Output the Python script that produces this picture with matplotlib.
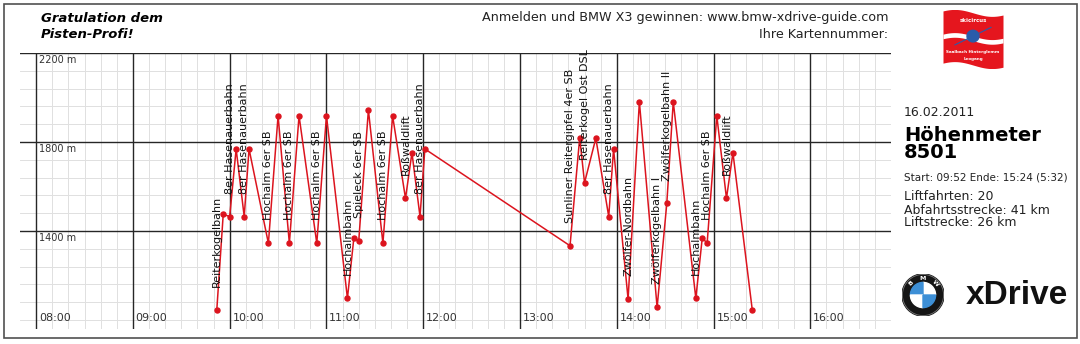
import matplotlib
matplotlib.use("Agg")
import matplotlib.pyplot as plt
import numpy as np
from matplotlib.patches import Rectangle, Circle, Wedge

# ski day: times and altitudes of every lift bottom / top
times = ["09:52", "09:56", "10:00", "10:04", "10:09", "10:12", "10:24", "10:30",
         "10:37", "10:43", "10:54", "11:00", "11:13", "11:17", "11:20", "11:26",
         "11:35", "11:41", "11:49", "11:53", "11:58", "12:01", "13:31", "13:37",
         "13:40", "13:47", "13:55", "13:58", "14:07", "14:14", "14:25", "14:31",
         "14:35", "14:49", "14:53", "14:56", "15:02", "15:08", "15:12", "15:24"]
altitudes = [1045, 1476, 1465, 1769, 1465, 1769, 1345, 1918, 1345, 1918,
             1345, 1918, 1098, 1370, 1355, 1944, 1345, 1918, 1547, 1752,
             1465, 1769, 1334, 1819, 1617, 1817, 1465, 1769, 1094, 1981,
             1057, 1524, 1981, 1098, 1370, 1345, 1918, 1547, 1752, 1045]
# index of the point where each lift ride starts
lift_start = [0, 2, 4, 6, 8, 10, 12, 14, 16, 18, 20, 22, 24, 26, 28, 30, 31, 33, 35, 37]
lift_names = ["Reiterkogelbahn", "8er Hasenauerbahn", "8er Hasenauerbahn",
              "Hochalm 6er SB", "Hochalm 6er SB", "Hochalm 6er SB", "Hochalmbahn",
              "Spieleck 6er SB", "Hochalm 6er SB", "Roßwaldlift", "8er Hasenauerbahn",
              "Sunliner Reitergipfel 4er SB", "Reiterkogel Ost DSL", "8er Hasenauerbahn",
              "Zwölfer-Nordbahn", "Zwölferkogelbahn I", "Zwölferkogelbahn II",
              "Hochalmbahn", "Hochalm 6er SB", "Roßwaldlift"]
hour_labels = ["08:00", "09:00", "10:00", "11:00", "12:00", "13:00", "14:00", "15:00", "16:00"]
alt_labels = [2200, 1800, 1400]

W, H = 1080, 344


def fx(x):
    return x / W


def fy(y):
    return 1 - y / H


hours = np.array([int(t[:2]) + int(t[3:]) / 60 for t in times])
alts = np.array(altitudes)

fig = plt.figure(figsize=(10.8, 3.44), dpi=100)
fig.patch.set_facecolor("white")

# main chart
ax = fig.add_axes([fx(20), fy(329), fx(891) - fx(20), fy(53) - fy(329)])
ax.set_xlim(7 + 50 / 60, 16 + 50 / 60)
ax.set_ylim(960, 2200)
for s in ax.spines.values():
    s.set_visible(False)
ax.set_xticks([])
ax.set_yticks([])

for k in range(54):
    xv = 8 + k / 6
    if k % 6 == 0:
        ax.axvline(xv, color="#262626", lw=1.0, zorder=1)
    else:
        ax.axvline(xv, color="#e0e0e0", lw=0.7, zorder=0)
for k in range(16):
    yv = 2200 - 80 * k
    if yv in alt_labels:
        ax.axhline(yv, color="#262626", lw=1.0, zorder=1)
    else:
        ax.axhline(yv, color="#e0e0e0", lw=0.7, zorder=0)

for lab in hour_labels:
    h = int(lab[:2])
    ax.annotate(lab, (h, 960), xytext=(2, 4), textcoords="offset points",
                ha="left", va="bottom", fontsize=8, color="#333333")
for a in alt_labels:
    ax.annotate(f"{a} m", (8, a), xytext=(2, -1.5), textcoords="offset points",
                ha="left", va="top", fontsize=7, color="#333333")

ax.plot(hours, alts, color="#dc141e", lw=1.1, marker="o", ms=3.6, zorder=3,
        clip_on=False)

for i, name in zip(lift_start, lift_names):
    ax.annotate(name, (hours[i], alts[i]), xytext=(0, 16.5), textcoords="offset points",
                rotation=90, ha="center", va="bottom", fontsize=8, color="#111111",
                zorder=4)

# header texts
fig.text(fx(41), fy(18), "Gratulation dem", fontsize=9.5, fontweight="bold",
         fontstyle="italic", va="center", ha="left")
fig.text(fx(41), fy(35), "Pisten-Profi!", fontsize=9.5, fontweight="bold",
         fontstyle="italic", va="center", ha="left")
fig.text(fx(888), fy(18), "Anmelden und BMW X3 gewinnen: www.bmw-xdrive-guide.com",
         fontsize=9.2, va="center", ha="right", color="#222222")
fig.text(fx(888), fy(35), "Ihre Kartennummer:", fontsize=9.2, va="center", ha="right",
         color="#222222")

# side panel
fig.text(fx(904), fy(113), "16.02.2011", fontsize=9, va="center", ha="left", color="#222222")
fig.text(fx(904), fy(141), "Höhenmeter", fontsize=14, fontweight="bold",
         va="baseline", ha="left")
fig.text(fx(904), fy(158), "8501", fontsize=14, fontweight="bold", va="baseline", ha="left")
fig.text(fx(904), fy(178), "Start: 09:52 Ende: 15:24 (5:32)", fontsize=7.5, va="center",
         ha="left", color="#222222")
for yy, txt in zip([197, 210, 223], ["Liftfahrten: 20", "Abfahrtsstrecke: 41 km",
                                     "Liftstrecke: 26 km"]):
    fig.text(fx(904), fy(yy), txt, fontsize=9, va="center", ha="left", color="#222222")

# skicircus logo
lg = fig.add_axes([fx(943), fy(68), fx(1003) - fx(943), fy(10) - fy(68)])
lg.set_xlim(0, 1)
lg.set_ylim(0, 1)
lg.axis("off")
xs = np.linspace(0, 1, 50)
wave = 0.06 * np.sin(xs * np.pi * 1.6 + 0.6)
lg.fill_between(xs, 0.05 + wave, 0.95 + wave, color="#e5161e", lw=0)
lg.fill_between(xs, 0.47 + wave, 0.55 + wave, color="white", lw=0)
lg.text(0.5, 0.82, "skicircus", color="white", fontsize=4, fontweight="bold",
        ha="center", va="center")
lg.text(0.5, 0.28, "Saalbach Hinterglemm", color="white", fontsize=3, fontweight="bold",
        ha="center", va="center")
lg.text(0.5, 0.16, "Leogang", color="white", fontsize=3, fontweight="bold",
        ha="center", va="center")
lg.add_patch(Circle((0.5, 0.55), 0.1, color="#2a5caa"))
lg.plot([0.2, 0.8], [0.4, 0.7], color="#2a5caa", lw=0.8)

# BMW roundel + xDrive
bm = fig.add_axes([fx(902), fy(316), fx(944) - fx(902), fy(274) - fy(316)])
bm.set_xlim(-1, 1)
bm.set_ylim(-1, 1)
bm.set_aspect("equal")
bm.axis("off")
bm.add_patch(Circle((0, 0), 1, color="#151515"))
bm.add_patch(Circle((0, 0), 0.98, fill=False, ec="#777777", lw=0.6))
bm.add_patch(Wedge((0, 0), 0.6, 0, 90, color="white"))
bm.add_patch(Wedge((0, 0), 0.6, 90, 180, color="#3d8fd6"))
bm.add_patch(Wedge((0, 0), 0.6, 180, 270, color="white"))
bm.add_patch(Wedge((0, 0), 0.6, 270, 360, color="#3d8fd6"))
for ch, ang in zip("BMW", [135, 90, 45]):
    r = np.deg2rad(ang)
    bm.text(0.8 * np.cos(r), 0.8 * np.sin(r), ch, color="white", fontsize=4.5,
            fontweight="bold", rotation=ang - 90, ha="center", va="center")
fig.text(fx(966), fy(296), "xDrive", fontsize=24, fontweight="bold",
         family="Liberation Sans", va="center", ha="left", color="#111111")

# outer frame
fig.add_artist(Rectangle((fx(4), fy(338)), fx(1077) - fx(4), fy(4) - fy(338),
                         transform=fig.transFigure, fill=False, ec="#505050", lw=1.2))

fig.savefig("out.png", dpi=100, facecolor="white")
